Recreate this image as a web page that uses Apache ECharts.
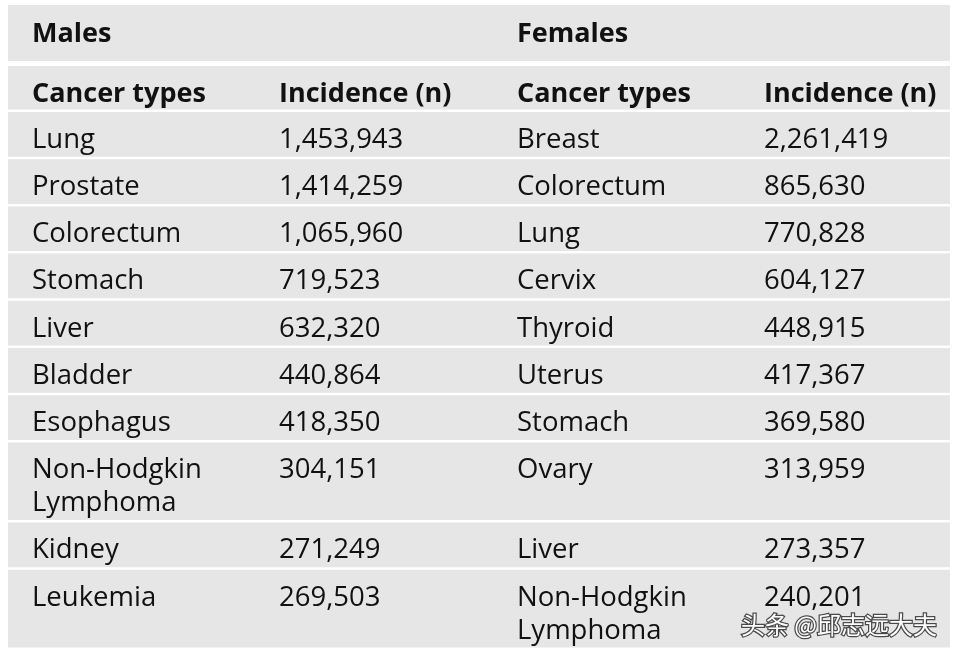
<!DOCTYPE html>
<html>
<head>
<meta charset="utf-8">
<script src="https://cdn.jsdelivr.net/npm/echarts@6/dist/echarts.min.js"></script>
<style>
html,body{margin:0;padding:0;background:#fff;}
#main{width:958px;height:657px;}
</style>
</head>
<body>
<div id="main"></div>
<script>
// ---- data ----
const groupTitles = ['Males', 'Females'];
const columnTitles = ['Cancer types', 'Incidence (n)'];
const maleTypes = ['Lung', 'Prostate', 'Colorectum', 'Stomach', 'Liver', 'Bladder', 'Esophagus', 'Non-Hodgkin Lymphoma', 'Kidney', 'Leukemia'];
const maleIncidence = [1453943, 1414259, 1065960, 719523, 632320, 440864, 418350, 304151, 271249, 269503];
const femaleTypes = ['Breast', 'Colorectum', 'Lung', 'Cervix', 'Thyroid', 'Uterus', 'Stomach', 'Ovary', 'Liver', 'Non-Hodgkin Lymphoma'];
const femaleIncidence = [2261419, 865630, 770828, 604127, 448915, 417367, 369580, 313959, 273357, 240201];
const watermark = '头条 @邱志远大夫';

// ---- layout / style ----
const FONT = '"Open Sans", "Noto Sans", sans-serif';
const FS = 27.5;
const FSB = 27;
const BG = '#e6e6e6';
const TXT = '#111';
const tableLeft = 8, tableRight = 950, tableTop = 5;
const titleH = 56, titleGap = 5;
const headerH = 43.5, lineGap = 2.5;
const rowH = 44.7, lineStep = 33;
const colX = [32, 279, 517, 764];
const wrapWidth = 215;

const ctx = document.createElement('canvas').getContext('2d');
ctx.font = FS + 'px ' + FONT;
function wrap(str) {
  const words = String(str).split(' ');
  const lines = [];
  let cur = '';
  words.forEach(w => {
    const t = cur ? cur + ' ' + w : w;
    if (cur && ctx.measureText(t).width > wrapWidth) { lines.push(cur); cur = w; }
    else cur = t;
  });
  if (cur) lines.push(cur);
  return lines;
}
const fmt = v => v.toLocaleString('en-US');

const elements = [];
function band(y, h) {
  elements.push({type: 'rect', silent: true, shape: {x: tableLeft, y: y, width: tableRight - tableLeft, height: h}, style: {fill: BG}});
}
function text(x, y, s, bold) {
  elements.push({type: 'text', silent: true, x: x, y: y,
    style: {text: s, fill: TXT, font: (bold ? 'bold ' + FSB : FS) + 'px ' + FONT, align: 'left', verticalAlign: 'middle'}});
}
const midOff = 28;

let y = tableTop;
band(y, titleH);
text(colX[0], y + midOff + 1, groupTitles[0], true);
text(colX[2], y + midOff + 1, groupTitles[1], true);
y += titleH + titleGap;
band(y, headerH);
text(colX[0], y + midOff, columnTitles[0], true);
text(colX[1], y + midOff, columnTitles[1], true);
text(colX[2], y + midOff, columnTitles[0], true);
text(colX[3], y + midOff, columnTitles[1], true);
y += headerH + lineGap;

for (let i = 0; i < maleTypes.length; i++) {
  const cells = [wrap(maleTypes[i]), [fmt(maleIncidence[i])], wrap(femaleTypes[i]), [fmt(femaleIncidence[i])]];
  const nLines = Math.max.apply(null, cells.map(c => c.length));
  const h = rowH + (nLines - 1) * lineStep;
  band(y, h);
  cells.forEach((lines, c) => {
    lines.forEach((ln, k) => text(colX[c], y + midOff + k * lineStep, ln, false));
  });
  y += h + lineGap;
}

elements.push({type: 'text', silent: true, x: 937, y: 625,
  style: {text: watermark, fill: '#fff', font: '24px "Noto Sans CJK SC", sans-serif', align: 'right', verticalAlign: 'middle',
    stroke: '#4a4a4a', lineWidth: 2.5}});

const chart = echarts.init(document.getElementById('main'), null, {renderer: 'canvas'});
chart.setOption({
  backgroundColor: '#fff',
  animation: false,
  graphic: {elements: elements}
});
</script>
</body>
</html>
